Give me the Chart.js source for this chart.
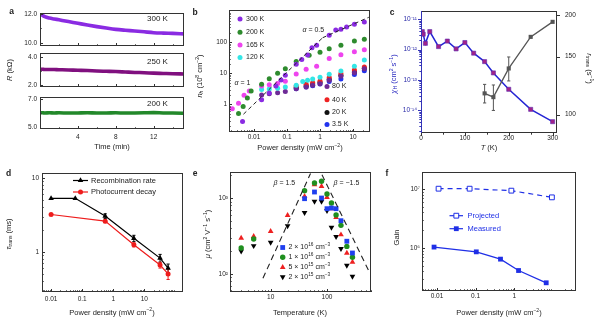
<!DOCTYPE html>
<html><head><meta charset="utf-8">
<script src="https://cdn.jsdelivr.net/npm/chart.js@4.4.1/dist/chart.umd.min.js"></script>
<style>
html,body{margin:0;padding:0;background:#fff;}
#root{position:relative;width:600px;height:323px;overflow:hidden;background:#fff;}
#root canvas{position:absolute;}
</style></head>
<body><div id="root"></div>
<script>
// ================= DATA =================
// panel a : resistance vs time
const aTime = [0,0.25,0.5,1,1.5,2,3,4,5,6,7,8,9,10,11,12,13,14,15.2];
const aR300 = [12.05,11.92,11.82,11.72,11.66,11.6,11.48,11.36,11.24,11.13,11.03,10.94,10.88,10.83,10.77,10.71,10.68,10.66,10.63];
const aR250 = [3.12,3.12,3.11,3.11,3.1,3.09,3.07,3.05,3.03,3.0,2.98,2.96,2.93,2.9,2.88,2.85,2.83,2.81,2.79];
const aR200 = [6.03,6.03,6.02,6.03,6.02,6.03,6.01,6.02,6.03,6.02,6.02,6.03,6.01,6.02,6.03,6.04,6.02,6.01,6.0];
const aLabels = ['300 K','250 K','200 K'];
const aXTicks = [4,8,12];

// panel b : n_h vs power density
const bLabels = ['300 K','200 K','165 K','120 K','80 K','40 K','20 K','3.5 K'];
const bX300 = [0.0045,0.017,0.029,0.046,0.066,0.089,0.19,0.28,0.42,0.57,0.79,1.9,3.0,4.3,6.4,11,22];
const bY300 = [0.28,1.4,2.3,3.9,6.1,8.6,19.5,28,39,67,80,168,250,264,310,380,452];
const bX200 = [0.0034,0.0047,0.0063,0.0082,0.017,0.029,0.052,0.089,0.19,0.47,1.0,1.9,4.3,11,22];
const bY200 = [0.51,0.85,1.6,2.7,4.4,6.7,10,14,24,38,48,62,80,110,125];
const bX165 = [0.0022,0.0034,0.005,0.0072,0.017,0.029,0.052,0.089,0.19,0.38,0.79,1.9,4.3,11,22];
const bY165 = [0.72,1.08,1.95,2.7,3.9,4.3,4.7,5.5,9.5,13.5,17,30,40,50,57];
const bX120 = [0.017,0.029,0.052,0.089,0.19,0.3,0.42,0.6,1.0,1.9,4.3,11,22];
const bY120 = [3.0,3.1,3.3,3.6,4.1,5.4,6.0,6.6,7.5,9.3,11.8,17,27];
const bX80 = [0.017,0.029,0.052,0.089,0.19,0.38,0.6,1.0,1.9,4.3,11,22];
const bY80 = [2.0,2.2,2.35,2.6,3.2,3.6,4.1,4.6,6.0,8.0,10.5,14];
const bXLow = [0.19,0.38,0.6,1.0,1.9,4.3,11,22];
const bY40 = [3.9,4.4,5.0,5.6,7.3,9.8,12.8,16];
const bY20 = [3.5,4.0,4.5,5.1,6.4,8.6,11,14.5];
const bY3p5 = [3.2,3.6,4.0,4.5,5.4,6.5,9.2,12];
const bAlpha1X = [0.0048,1.2], bAlpha1Y = [0.48,140];
const bAlpha05X = [1.2,30], bAlpha05Y = [140,640];
const bXTicks = [0.01,0.1,1,10];
const bYTicks = [1,10,100];

// panel c : chi_H and r_trans vs T
const cT = [3,5,10,20,40,60,80,100,120,145,165,200,250,300];
const cChi = [3.9e-12,3.2e-12,1.6e-12,3.9e-12,1.25e-12,1.9e-12,1.05e-12,1.7e-12,7.6e-13,4.0e-13,1.7e-13,4.9e-14,1.07e-14,4.2e-15];
const cRateT = [145,165,200,250,300];
const cRate = [116,113,138,172,191];
const cRateErr = [7.5,10,11.5,0,0];
const cXTicks = [0,100,200,300];
const cYTicks = [1e-14,1e-13,1e-12,1e-11];
const cY2Ticks = [100,150,200];

// panel d : tau vs power density
const dLabels = ['Recombination rate','Photocurrent decay'];
const dXRec = [0.01,0.06,0.55,4.6,32,58];
const dRec = [5.3,5.3,3.05,1.52,0.82,0.6];
const dRecErr = [0,0,0.22,0.15,0.1,0.08];
const dXPh = [0.01,0.55,4.6,32,58];
const dPh = [3.2,2.6,1.24,0.66,0.5];
const dPhErr = [0,0.12,0.08,0.06,0.08];
const dXTicks = [0.01,0.1,1,10];
const dYTicks = [1,10];

// panel e : mobility vs temperature
const eLabels = [['2 × 10','16'],['1 × 10','16'],['5 × 10','15'],['2 × 10','15']];
const eTBlue = [40,60,80,100,120,145,177,225,283];
const eBlue = [980,1200,1000,724,739,724,503,270,189];
const eTGreen = [3,5,40,60,80,100,120,145,177,225,283];
const eGreen = [220,289,1250,1575,1660,1130,860,600,437,231,166];
const eTAll = [3,5,10,20,40,60,80,100,120,145,177,225,283];
const eRed = [298,313,365,592,1050,1500,1425,1020,724,557,329,189,144];
const eBlack = [200,235,260,430,640,900,900,680,410,310,215,130,93];
const eBeta15X = [7.3,51], eBeta15Y = [88,2100];
const eBetaM15X = [81.5,556], eBetaM15Y = [2025,108.6];
const eXTicks = [10,100];
const eYTicks = [100,1000];

// panel f : gain vs power density
const fLabels = ['Projected','Measured'];
const fXProj = [0.011,0.07,0.84,9.4];
const fProj = [1.01e7,1.01e7,9.35e6,7.2e6];
const fXMeas = [0.0084,0.104,0.44,1.29,6.7];
const fMeas = [1.03e6,8.55e5,6.43e5,4.12e5,2.55e5];
const fXTicks = [0.01,0.1,1];
const fYTicks = [1e6,1e7];

// ================= RENDER =================
const FONT = '"Liberation Sans", Arial, Helvetica, sans-serif';
const INK = '#222';
const root = document.getElementById('root');
const SUP = {'-':'⁻','0':'⁰','1':'¹','2':'²','3':'³','4':'⁴','5':'⁵','6':'⁶','7':'⁷','8':'⁸','9':'⁹'};
const sup = n => String(n).split('').map(c => SUP[c]).join('');
const pow10 = v => '10' + sup(Math.round(Math.log10(v)));
const plain = v => String(v);
const fix1 = v => v.toFixed(1);
const pts = (xs, ys) => xs.map((x, i) => ({x, y: ys[i]}));

function drawMarker(ctx, style, x, y, r, fill, stroke, bw, rot) {
  const o = {pointStyle: style, radius: r, rotation: rot || 0, borderWidth: bw || 0};
  ctx.save();
  ctx.fillStyle = fill; ctx.strokeStyle = stroke || fill; ctx.lineWidth = bw || 0;
  if (Chart.helpers && Chart.helpers.drawPoint) Chart.helpers.drawPoint(ctx, o, x, y);
  else { ctx.beginPath(); ctx.arc(x, y, r, 0, Math.PI * 2); ctx.fill(); }
  ctx.restore();
}

const framePlugin = {
  id: 'frame',
  beforeDatasetsDraw(chart) {
    const ctx = chart.ctx;
    chart.data.datasets.forEach((ds, di) => {
      if (!ds.errs) return;
      const meta = chart.getDatasetMeta(di);
      const xs = chart.scales[meta.xAxisID], ys = chart.scales[meta.yAxisID];
      ctx.save(); ctx.strokeStyle = ds.borderColor; ctx.lineWidth = 1;
      ds.data.forEach((p, i) => {
        const e = ds.errs[i]; if (!e) return;
        const x = xs.getPixelForValue(p.x);
        const y1 = ys.getPixelForValue(p.y - e), y2 = ys.getPixelForValue(p.y + e);
        ctx.beginPath();
        ctx.moveTo(x, y1); ctx.lineTo(x, y2);
        ctx.moveTo(x - 1.6, y1); ctx.lineTo(x + 1.6, y1);
        ctx.moveTo(x - 1.6, y2); ctx.lineTo(x + 1.6, y2);
        ctx.stroke();
      });
      ctx.restore();
    });
  },
  afterDatasetsDraw(chart, args, o) {
    const ctx = chart.ctx, a = chart.chartArea;
    ctx.save();
    ctx.lineWidth = 1; ctx.strokeStyle = o.color || '#333';
    ctx.strokeRect(a.left + 0.5, a.top + 0.5, a.right - a.left - 1, a.bottom - a.top - 1);
    if (o.leftColor) {
      ctx.strokeStyle = o.leftColor; ctx.beginPath();
      ctx.moveTo(a.left + 0.5, a.top); ctx.lineTo(a.left + 0.5, a.bottom); ctx.stroke();
    }
    (o.ticks || []).forEach(spec => {
      const s = chart.scales[spec.axis];
      const vals = s.ticks.map(t => [t.value, 3]);
      if (s.type === 'logarithmic' && !spec.noMinor) {
        for (let k = Math.floor(Math.log10(s.min)); k <= Math.ceil(Math.log10(s.max)); k++)
          for (let m = 2; m <= 9; m++) { const v = m * Math.pow(10, k); if (v > s.min && v < s.max) vals.push([v, 1.7]); }
      } else if (spec.step) {
        for (let v = Math.ceil(s.min / spec.step) * spec.step; v <= s.max + 1e-9; v += spec.step)
          if (!s.ticks.some(t => Math.abs(t.value - v) < 1e-9)) vals.push([v, 1.7]);
      }
      ctx.strokeStyle = spec.color || o.color || '#333';
      const dir = spec.out ? -1 : 1;
      vals.forEach(([v, len]) => {
        const p = Math.round(s.getPixelForValue(v)) + 0.5;
        ctx.beginPath();
        if (s.position === 'left') { ctx.moveTo(a.left, p); ctx.lineTo(a.left + dir * len, p); }
        else if (s.position === 'right') { ctx.moveTo(a.right, p); ctx.lineTo(a.right - dir * len, p); }
        else { ctx.moveTo(p, a.bottom); ctx.lineTo(p, a.bottom - dir * len); }
        ctx.stroke();
      });
    });
    ctx.restore();
  }
};

function makeChart(rect, box, datasets, axes, frameOpts) {
  const cv = document.createElement('canvas');
  cv.width = rect.w; cv.height = rect.h;
  Object.assign(cv.style, {left: rect.x + 'px', top: rect.y + 'px', width: rect.w + 'px', height: rect.h + 'px'});
  root.appendChild(cv);
  const L = box.l - rect.x, T = box.t - rect.y, R = rect.x + rect.w - box.r, B = rect.y + rect.h - box.b;
  const scales = {};
  let hasRight = false;
  Object.keys(axes).forEach(id => {
    const s = axes[id];
    if (s.position === 'right') hasRight = true;
    scales[id] = {
      type: s.type, position: s.position, min: s.min, max: s.max,
      grid: {display: false, drawTicks: false}, border: {display: false}, title: {display: false},
      ticks: {display: s.show !== false, padding: s.pad == null ? 2 : s.pad, autoSkip: false, maxRotation: 0, minRotation: 0,
              color: s.color || INK, font: {size: 6.5, family: FONT}, callback: v => s.fmt(v)},
      afterBuildTicks: sc => { sc.ticks = s.ticksAt.map(v => ({value: v})); },
      afterFit: sc => {
        if (s.position === 'bottom') sc.height = B;
        else if (s.position === 'left') sc.width = L;
        else sc.width = R;
        sc.paddingLeft = sc.paddingRight = sc.paddingTop = sc.paddingBottom = 0;
      }
    };
  });
  return new Chart(cv, {
    type: 'scatter',
    data: {datasets},
    options: {
      responsive: false, maintainAspectRatio: false, animation: false, devicePixelRatio: 1,
      layout: {padding: {left: 0, top: T, right: hasRight ? 0 : R, bottom: 0}},
      plugins: {legend: {display: false}, tooltip: {enabled: false}, frame: frameOpts || {}},
      scales
    },
    plugins: [framePlugin]
  });
}

function dots(xs, ys, color, style, r, extra) {
  return Object.assign({data: pts(xs, ys), showLine: false, pointStyle: style, pointRadius: r,
    pointBackgroundColor: color, pointBorderColor: color, pointBorderWidth: 0, borderColor: color, backgroundColor: color}, extra || {});
}
function curve(xs, ys, color, w, extra) {
  return Object.assign({data: pts(xs, ys), showLine: true, pointRadius: 0, borderColor: color, borderWidth: w,
    backgroundColor: color}, extra || {});
}

// ---- panel a ----
const aCol = ['#8a2be2', '#80107f', '#22882a'];
const aX = (show) => ({type: 'linear', position: 'bottom', min: 0, max: 15.2, ticksAt: aXTicks, fmt: plain, show, pad: 4});
makeChart({x: 0, y: 0, w: 190, h: 50}, {l: 40, t: 13, r: 184, b: 46},
  [curve(aTime, aR300, aCol[0], 3.6, {cubicInterpolationMode: 'monotone'})],
  {x: aX(false), y: {type: 'linear', position: 'left', min: 9.79, max: 12.07, ticksAt: [10, 12], fmt: fix1, pad: 3}},
  {ticks: [{axis: 'x', step: 2}, {axis: 'y', step: 1}]});
makeChart({x: 0, y: 50, w: 190, h: 42}, {l: 40, t: 53, r: 184, b: 87},
  [curve(aTime, aR250, aCol[1], 3.6, {cubicInterpolationMode: 'monotone'})],
  {x: aX(false), y: {type: 'linear', position: 'left', min: 1.88, max: 4.26, ticksAt: [2, 4], fmt: fix1, pad: 3}},
  {ticks: [{axis: 'x', step: 2}, {axis: 'y', step: 1}]});
makeChart({x: 0, y: 92, w: 190, h: 50}, {l: 40, t: 97, r: 184, b: 129},
  [curve(aTime, aR200, aCol[2], 3.6, {cubicInterpolationMode: 'monotone'})],
  {x: aX(true), y: {type: 'linear', position: 'left', min: 4.91, max: 7.12, ticksAt: [5, 7], fmt: fix1, pad: 3}},
  {ticks: [{axis: 'x', step: 2}, {axis: 'y', step: 1}]});

// ---- panel b ----
const bCol = ['#8a2be2', '#2e8b2e', '#ee44ee', '#33e6e6', '#6e2a96', '#ee2222', '#111111', '#2233ee'];
const bR = 2.5;
makeChart({x: 195, y: 0, w: 190, h: 145}, {l: 229, t: 10, r: 370, b: 132},
  [
    curve(bAlpha1X, bAlpha1Y, '#222', 1, {borderDash: [4, 3]}),
    curve(bAlpha05X, bAlpha05Y, '#222', 1, {borderDash: [4, 3]}),
    dots(bX300, bY300, bCol[0], 'circle', bR),
    dots(bX200, bY200, bCol[1], 'circle', bR),
    dots(bX165, bY165, bCol[2], 'circle', bR),
    dots(bX120, bY120, bCol[3], 'circle', bR),
    dots(bX80, bY80, bCol[4], 'circle', bR),
    dots(bXLow, bY40, bCol[5], 'circle', bR),
    dots(bXLow, bY20, bCol[6], 'circle', bR),
    dots(bXLow, bY3p5, bCol[7], 'circle', bR)
  ],
  {x: {type: 'logarithmic', position: 'bottom', min: 0.00175, max: 32.7, ticksAt: bXTicks, fmt: plain, pad: 1},
   y: {type: 'logarithmic', position: 'left', min: 0.128, max: 1100, ticksAt: bYTicks, fmt: plain, pad: 2}},
  {ticks: [{axis: 'x'}, {axis: 'y'}]});

// ---- panel c ----
const cBlue = '#2424d4';
makeChart({x: 395, y: 0, w: 205, h: 145}, {l: 421, t: 11, r: 557, b: 133},
  [
    Object.assign(dots(cRateT, cRate, '#555555', 'rect', 2.9, {showLine: true, borderWidth: 1.3, yAxisID: 'y2', errs: cRateErr})),
    Object.assign(dots(cT, cChi, '#a0228a', 'rect', 2.9, {showLine: true, borderColor: cBlue, borderWidth: 1.5, pointBorderColor: '#5a2ab0', pointBorderWidth: 0.6}))
  ],
  {x: {type: 'linear', position: 'bottom', min: 0, max: 310, ticksAt: cXTicks, fmt: plain, pad: 1},
   y: {type: 'logarithmic', position: 'left', min: 1.78e-15, max: 1.86e-11, ticksAt: cYTicks, fmt: pow10, pad: 4, color: '#2a2aa8'},
   y2: {type: 'logarithmic', position: 'right', min: 88, max: 206, ticksAt: cY2Ticks, fmt: plain, pad: 8}},
  {leftColor: '#3434b8', ticks: [{axis: 'x', step: 50, out: true}, {axis: 'y', out: true, color: '#3434b8'}, {axis: 'y2', out: true, noMinor: true}]});

// ---- panel d ----
makeChart({x: 0, y: 160, w: 195, h: 145}, {l: 42, t: 173, r: 183, b: 292},
  [
    dots(dXRec, dRec, '#000000', 'triangle', 3.2, {showLine: true, borderWidth: 1.2, errs: dRecErr}),
    dots(dXPh, dPh, '#ee1c1c', 'circle', 2.5, {showLine: true, borderWidth: 1.2, errs: dPhErr})
  ],
  {x: {type: 'logarithmic', position: 'bottom', min: 0.0051, max: 175, ticksAt: dXTicks, fmt: plain, pad: 3},
   y: {type: 'logarithmic', position: 'left', min: 0.284, max: 11.7, ticksAt: dYTicks, fmt: plain, pad: 3}},
  {ticks: [{axis: 'x'}, {axis: 'y'}]});

// ---- panel e ----
const eCol = ['#1f3fef', '#1f8f1f', '#ee2020', '#000000'];
makeChart({x: 195, y: 160, w: 190, h: 145}, {l: 230, t: 172, r: 371, b: 292},
  [
    curve(eBeta15X, eBeta15Y, '#222', 1.1, {borderDash: [6, 4]}),
    curve(eBetaM15X, eBetaM15Y, '#222', 1.1, {borderDash: [6, 4]}),
    dots(eTBlue, eBlue, eCol[0], 'rect', 3.4),
    dots(eTGreen, eGreen, eCol[1], 'circle', 2.7),
    dots(eTAll, eRed, eCol[2], 'triangle', 3.3),
    dots(eTAll, eBlack, eCol[3], 'triangle', 3.3, {pointRotation: 180})
  ],
  {x: {type: 'logarithmic', position: 'bottom', min: 1.9, max: 604, ticksAt: eXTicks, fmt: plain, pad: 1},
   y: {type: 'logarithmic', position: 'left', min: 58, max: 2200, ticksAt: eYTicks, fmt: pow10, pad: 2}},
  {ticks: [{axis: 'x'}, {axis: 'y'}]});

// ---- panel f ----
const fBlue = '#1f2fe6';
makeChart({x: 390, y: 160, w: 210, h: 145}, {l: 422, t: 172, r: 576, b: 291},
  [
    dots(fXProj, fProj, fBlue, 'rect', 3.4, {showLine: true, borderWidth: 1.2, borderDash: [5, 4], pointBackgroundColor: '#ffffff', pointBorderWidth: 1}),
    dots(fXMeas, fMeas, fBlue, 'rect', 3.4, {showLine: true, borderWidth: 1.3})
  ],
  {x: {type: 'logarithmic', position: 'bottom', min: 0.0041, max: 39.5, ticksAt: fXTicks, fmt: plain, pad: 1},
   y: {type: 'logarithmic', position: 'left', min: 1.85e5, max: 1.94e7, ticksAt: fYTicks, fmt: pow10, pad: 2}},
  {ticks: [{axis: 'x'}, {axis: 'y'}]});

// ================= TEXT OVERLAY =================
const ov = document.createElement('canvas');
ov.width = 600; ov.height = 323;
Object.assign(ov.style, {left: '0px', top: '0px', width: '600px', height: '323px'});
root.appendChild(ov);
const g = ov.getContext('2d');

function rich(segs, x, y, size, opt) {
  opt = opt || {};
  const parts = segs.map(sg => {
    const t = Array.isArray(sg) ? sg[0] : sg, k = Array.isArray(sg) ? (sg[1] || '') : '';
    const small = k.includes('U') || k.includes('D');
    const fs = small ? size * 0.68 : size;
    const f = (k.includes('I') ? 'italic ' : '') + (k.includes('B') ? 'bold ' : '') + fs + 'px ' + FONT;
    g.font = f;
    return {t, f, w: g.measureText(t).width, dy: k.includes('U') ? -size * 0.33 : k.includes('D') ? size * 0.25 : 0};
  });
  const W = parts.reduce((s, p) => s + p.w, 0);
  g.save(); g.translate(x, y); if (opt.rot) g.rotate(opt.rot);
  let cx = opt.align === 'left' ? 0 : opt.align === 'right' ? -W : -W / 2;
  g.fillStyle = opt.color || INK; g.textBaseline = 'middle'; g.textAlign = 'left';
  parts.forEach(p => { g.font = p.f; g.fillText(p.t, cx, p.dy); cx += p.w; });
  g.restore();
}
function legendMark(style, x, y, r, fill, stroke, bw, rot, lineCol, x1, x2, dash) {
  if (lineCol) {
    g.save(); g.strokeStyle = lineCol; g.lineWidth = 1.2; if (dash) g.setLineDash(dash);
    g.beginPath(); g.moveTo(x1, y); g.lineTo(x2, y); g.stroke(); g.restore();
  }
  drawMarker(g, style, x, y, r, fill, stroke, bw, rot);
}

// panel letters
[['a', 11.5, 11.5], ['b', 195, 13], ['c', 392, 13], ['d', 8.5, 173.5], ['e', 195, 173.5], ['f', 387, 173.5]]
  .forEach(([t, x, y]) => rich([[t, 'B']], x, y, 8.5));

const PD = [['Power density (mW cm'], ['−2', 'U'], [')']];
const UP = -Math.PI / 2;
// panel a
rich([['R', 'I'], [' (kΩ)']], 10, 70, 7.5, {rot: UP});
rich([['Time (min)']], 112, 146.7, 7.5);
rich([[aLabels[0]]], 157.5, 19, 8);
rich([[aLabels[1]]], 157.5, 62, 8);
rich([[aLabels[2]]], 157.5, 104, 8);
// panel b
rich([['n', 'I'], ['h', 'ID'], [' (10'], ['8', 'U'], [' cm'], ['−2', 'U'], [')']], 200, 76, 7.5, {rot: UP});
rich(PD, 300, 147.7, 7.5);
[19, 32.3, 45, 57.5].forEach((y, i) => { legendMark('circle', 240, y, bR, bCol[i]); rich([[bLabels[i]]], 246, y, 7, {align: 'left'}); });
[86.5, 99.8, 112.5, 124.5].forEach((y, i) => { legendMark('circle', 327, y, bR, bCol[i + 4]); rich([[bLabels[i + 4]]], 332, y, 7, {align: 'left'}); });
rich([['α', 'I'], [' = 1']], 234.5, 83, 7, {align: 'left'});
rich([['α', 'I'], [' = 0.5']], 302.5, 29.7, 7, {align: 'left'});
// panel c
rich([['χ', 'I'], ['H', 'D'], [' (cm'], ['2', 'U'], [' s'], ['−1', 'U'], [')']], 394, 74, 7.5, {rot: UP, color: '#2a2ac0'});
rich([['r', 'I'], ['trans', 'D'], [' (s'], ['−1', 'U'], [')']], 589, 68.5, 7.5, {rot: Math.PI / 2});
rich([['T', 'I'], [' (K)']], 489, 148, 7.5);
// panel d
rich([['τ', 'I'], ['trans', 'D'], [' (ms)']], 8.5, 234, 7.5, {rot: UP});
rich(PD, 112, 312.5, 7.5);
legendMark('triangle', 80.5, 180.5, 3.2, '#000', '#000', 0, 0, '#000', 73, 88);
rich([[dLabels[0]]], 91, 180.5, 7.5, {align: 'left'});
legendMark('circle', 80.5, 192, 2.5, '#ee1c1c', '#ee1c1c', 0, 0, '#ee1c1c', 73, 88);
rich([[dLabels[1]]], 91, 192, 7.5, {align: 'left'});
// panel e
rich([['μ', 'I'], [' (cm'], ['2', 'U'], [' V'], ['−1', 'U'], [' s'], ['−1', 'U'], [')']], 208, 234, 7.5, {rot: UP});
rich([['Temperature (K)']], 300, 313, 7.5);
rich([['β', 'I'], [' = 1.5']], 273.5, 183.3, 7, {align: 'left'});
rich([['β', 'I'], [' = −1.5']], 333.5, 183.3, 7, {align: 'left'});
const eSty = [['rect', 3.4, 0], ['circle', 2.7, 0], ['triangle', 3.3, 0], ['triangle', 3.3, 180]];
[247.5, 257.2, 267.3, 277].forEach((y, i) => {
  legendMark(eSty[i][0], 282.7, y, eSty[i][1], eCol[i], eCol[i], 0, eSty[i][2]);
  rich([[eLabels[i][0]], [eLabels[i][1], 'U'], [' cm'], ['−3', 'U']], 288.5, y, 7, {align: 'left'});
});
// panel f
rich([['Gain']], 397, 237.5, 7.5, {rot: UP});
rich(PD, 499, 313, 7.5);
legendMark('rect', 456.3, 215.7, 3.4, '#ffffff', fBlue, 1, 0, fBlue, 449.5, 463);
rich([[fLabels[0]]], 467.5, 215.7, 7.5, {align: 'left', color: fBlue});
legendMark('rect', 456.3, 228.7, 3.4, fBlue, fBlue, 0, 0, fBlue, 449.5, 463);
rich([[fLabels[1]]], 467.5, 228.7, 7.5, {align: 'left', color: fBlue});
</script></body></html>
